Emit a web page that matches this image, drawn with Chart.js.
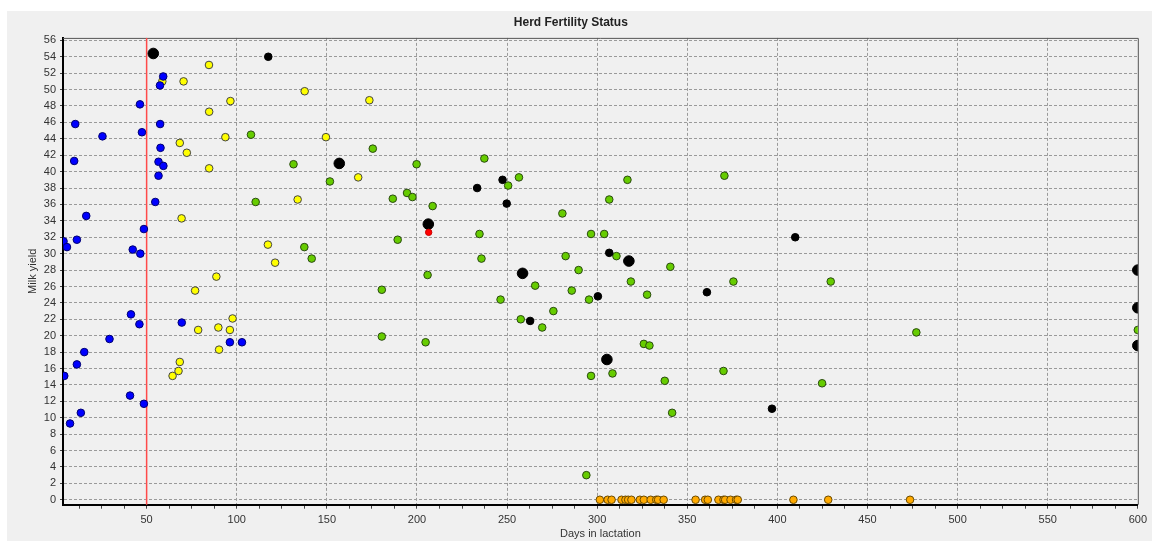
<!DOCTYPE html>
<html>
<head>
<meta charset="utf-8">
<script src="https://cdn.jsdelivr.net/npm/chart.js"></script>
<style>
  html, body { margin: 0; padding: 0; background: #fff; }
</style>
</head>
<body>
<canvas id="myChart" width="1152" height="541"></canvas>
<script>
// axis ticks
const xTickLabels = [50, 100, 150, 200, 250, 300, 350, 400, 450, 500, 550, 600];
const yTickLabels = [0, 2, 4, 6, 8, 10, 12, 14, 16, 18, 20, 22, 24, 26, 28, 30, 32, 34, 36, 38, 40, 42, 44, 46, 48, 50, 52, 54, 56];
const xMin = 3.6, xMax = 600, yMin = -0.6, yMax = 56.3;
const minorStep = 12.5;
const thresholdDay = 50;

// blue: not yet past voluntary waiting period
const blueDays  = [3.9, 5.8, 4.3, 7.5, 9.8, 10.4, 11.3, 11.3, 13.5, 15.4, 16.5, 25.5, 29.4, 40.8, 41.3, 42.3, 46.0, 46.3, 46.5, 47.4, 48.5, 48.5, 54.8, 56.6, 56.6, 57.4, 57.5, 57.7, 59.2, 59.3, 69.5, 96.2, 102.9];
const blueYield = [31.5, 30.8, 15.1, 9.3, 41.3, 45.8, 31.7, 16.5, 10.6, 18.0, 34.6, 44.3, 19.6, 12.7, 22.6, 30.5, 21.4, 48.2, 30.0, 44.8, 33.0, 11.7, 36.3, 41.2, 39.5, 50.5, 45.8, 42.9, 51.6, 40.7, 21.6, 19.2, 19.2];

const yellowDays  = [58.7, 64.4, 67.7, 68.4, 68.4, 69.4, 70.5, 72.3, 76.9, 78.6, 84.6, 84.7, 84.7, 88.7, 89.8, 90.2, 93.7, 96.2, 96.5, 97.7, 117.3, 121.3, 133.8, 137.7, 149.5, 167.4, 173.6];
const yellowYield = [51.0, 15.1, 15.7, 16.8, 43.5, 34.3, 51.0, 42.3, 25.5, 20.7, 53.0, 47.3, 40.4, 27.2, 21.0, 18.3, 44.2, 20.7, 48.6, 22.1, 31.1, 28.9, 36.6, 49.8, 44.2, 39.3, 48.7];

const greenDays  = [107.9, 110.5, 131.5, 137.5, 141.6, 151.7, 175.5, 180.5, 180.5, 186.6, 189.3, 194.5, 197.5, 199.8, 204.8, 205.9, 208.7, 234.7, 235.8, 237.4, 246.4, 250.6, 256.6, 257.6, 265.6, 269.5, 275.7, 280.7, 282.5, 285.9, 289.7, 294.0, 295.5, 296.6, 296.6, 303.9, 306.7, 308.5, 310.7, 316.8, 318.7, 325.9, 327.7, 329.0, 337.5, 340.6, 341.6, 370.1, 370.6, 375.6, 424.8, 429.6, 477.1, 600];
const greenYield = [44.5, 36.3, 40.9, 30.8, 29.4, 38.8, 42.8, 25.6, 19.9, 36.7, 31.7, 37.4, 36.9, 40.9, 19.2, 27.4, 35.8, 32.4, 29.4, 41.6, 24.4, 38.3, 39.3, 22.0, 26.1, 21.0, 23.0, 34.9, 29.7, 25.5, 28.0, 3.0, 24.4, 32.4, 15.1, 32.4, 36.6, 15.4, 29.7, 39.0, 26.6, 19.0, 25.0, 18.8, 14.5, 28.4, 10.6, 15.7, 39.5, 26.6, 14.2, 26.6, 20.4, 20.7];

const blackDays  = [117.5, 233.4, 247.5, 249.8, 262.8, 300.4, 306.7, 360.9, 397.0, 409.9];
const blackYield = [54.0, 38.0, 39.0, 36.1, 21.8, 24.8, 30.1, 25.3, 11.1, 32.0];

const bigBlackDays  = [53.7, 156.9, 206.3, 258.6, 305.4, 317.6, 600, 600, 600];
const bigBlackYield = [54.4, 41.0, 33.6, 27.6, 17.1, 29.1, 28.0, 23.4, 18.8];

const redDays  = [206.5];
const redYield = [32.6];

const orangeDays  = [301.5, 305.8, 308.0, 313.5, 315.7, 317.2, 319.0, 323.7, 325.9, 329.7, 332.8, 333.8, 336.9, 354.6, 359.9, 361.4, 367.3, 370.1, 371.0, 374.0, 377.1, 378.0, 408.9, 428.2, 473.6];
const orangeYield = [0, 0, 0, 0, 0, 0, 0, 0, 0, 0, 0, 0, 0, 0, 0, 0, 0, 0, 0, 0, 0, 0, 0, 0, 0];

const pts = (xs, ys) => xs.map((x, i) => ({x: x, y: ys[i]}));

const FONT = "'Liberation Sans', Arial, sans-serif";

function series(xs, ys, fill, border, radius) {
  return {
    data: pts(xs, ys),
    backgroundColor: fill,
    borderColor: border,
    borderWidth: 1,
    pointRadius: radius,
    pointHoverRadius: radius,
    clip: 0
  };
}

const panelBg = {
  id: 'panelBg',
  beforeDraw(chart) {
    const c = chart.ctx;
    c.save();
    c.fillStyle = '#f0f0f0';
    c.fillRect(7, 11, chart.width - 7, chart.height - 11);
    c.restore();
  }
};

const frameAndLine = {
  id: 'frameAndLine',
  beforeDatasetsDraw(chart) {
    const c = chart.ctx, a = chart.chartArea;
    c.save();
    c.strokeStyle = '#555';
    c.lineWidth = 1;
    c.beginPath();
    c.moveTo(a.left, a.top + 0.5);
    c.lineTo(a.right + 0.5, a.top + 0.5);
    c.lineTo(a.right + 0.5, a.bottom);
    c.stroke();
    const x = chart.scales.x.getPixelForValue(thresholdDay);
    c.strokeStyle = '#ff4a4a';
    c.lineWidth = 1.5;
    c.beginPath();
    c.moveTo(x, a.top);
    c.lineTo(x, a.bottom);
    c.stroke();
    c.restore();
  }
};

const ctx = document.getElementById('myChart');

new Chart(ctx, {
  type: 'scatter',
  data: {
    datasets: [
      series(redDays, redYield, '#ff0000', '#cc0000', 3.2),
      series(bigBlackDays, bigBlackYield, '#000000', '#000000', 5.3),
      series(blackDays, blackYield, '#000000', '#000000', 3.8),
      series(blueDays, blueYield, '#0000ff', '#000070', 3.8),
      series(yellowDays, yellowYield, '#ffff00', '#444444', 3.8),
      series(greenDays, greenYield, '#66cc00', '#2a4a10', 3.8),
      series(orangeDays, orangeYield, '#ffaa00', '#6a4a00', 3.8)
    ]
  },
  options: {
    responsive: false,
    animation: false,
    layout: { padding: { left: 0, right: 10.3, top: 0, bottom: 0 } },
    plugins: {
      legend: { display: false },
      tooltip: { enabled: false },
      title: {
        display: true,
        text: 'Herd Fertility Status',
        color: '#222',
        font: { family: FONT, size: 12, weight: 'bold' },
        padding: { top: 15, bottom: 8.5 }
      }
    },
    scales: {
      x: {
        type: 'linear',
        min: xMin,
        max: xMax,
        afterBuildTicks: s => {
          const t = [];
          for (let v = minorStep; v <= xMax; v += minorStep) t.push({ value: v });
          s.ticks = t;
        },
        afterFit: s => { s.height = 36.3; },
        ticks: {
          autoSkip: false,
          maxRotation: 0,
          color: '#333',
          padding: 5,
          font: { family: FONT, size: 11 },
          callback: v => xTickLabels.includes(v) ? String(v) : ''
        },
        grid: {
          color: c => (c.tick && xTickLabels.includes(c.tick.value) && c.tick.value < xMax) ? '#9a9a9a' : 'rgba(0,0,0,0)',
          tickColor: '#444',
          tickLength: 4,
          lineWidth: 1
        },
        border: { color: '#000', width: 2, dash: [3, 2] },
        title: {
          display: true,
          text: 'Days in lactation',
          color: '#333',
          font: { family: FONT, size: 11 },
          padding: { top: 0, bottom: 0.7 }
        }
      },
      y: {
        type: 'linear',
        min: yMin,
        max: yMax,
        afterBuildTicks: s => { s.ticks = yTickLabels.map(v => ({ value: v })); },
        afterFit: s => { s.width = 63; },
        ticks: {
          autoSkip: false,
          color: '#333',
          padding: 4,
          font: { family: FONT, size: 11 },
          callback: v => String(v)
        },
        grid: {
          color: '#9a9a9a',
          tickColor: '#444',
          tickLength: 3,
          lineWidth: 1
        },
        border: { color: '#000', width: 2, dash: [3, 2] },
        title: {
          display: true,
          text: 'Milk yield',
          color: '#333',
          font: { family: FONT, size: 11 },
          padding: { top: 26, bottom: 0 }
        }
      }
    }
  },
  plugins: [panelBg, frameAndLine]
});
</script>
</body>
</html>
